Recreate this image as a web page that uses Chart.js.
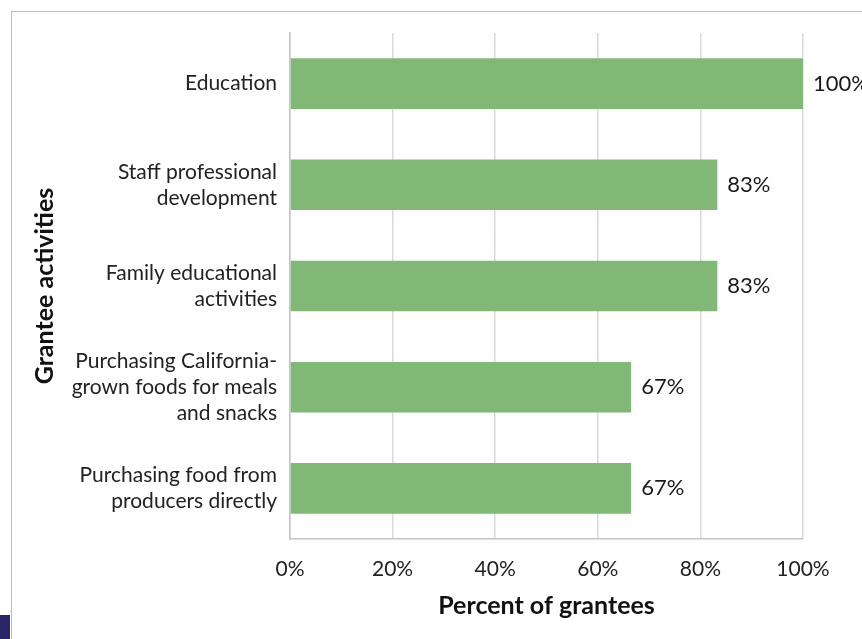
<!DOCTYPE html>
<html>
<head>
<meta charset="utf-8">
<script src="https://cdn.jsdelivr.net/npm/chart.js@4"></script>
<style>
  html, body { margin: 0; padding: 0; background: #fff; }
  #wrap { position: relative; width: 862px; height: 639px; overflow: hidden; }
  #frame { position: absolute; left: 11px; top: 11px; width: 900px; height: 700px;
           border-left: 1px solid #bdbdbd; border-top: 1px solid #bdbdbd; }
  #mark { position: absolute; left: 0; top: 615px; width: 10px; height: 24px; background: #2b2466; }
  canvas { position: absolute; left: 0; top: 0; }
</style>
</head>
<body>
<div id="wrap">
  <div id="frame"></div>
  <div id="mark"></div>
  <canvas id="graphique" width="862" height="639"></canvas>
</div>
<script>
// donnees du graphique
var activites = [
  ['Education'],
  ['Staff professional', 'development'],
  ['Family educational', 'activities'],
  ['Purchasing California-', 'grown foods for meals', 'and snacks'],
  ['Purchasing food from', 'producers directly']
];
var pourcentages = [100, 83.3, 83.3, 66.5, 66.5];
var ticksX = [0, 20, 40, 60, 80, 100];

var police = 'Lato, "Open Sans", sans-serif';

// etiquettes a droite des barres
var etiquettes = {
  id: 'etiquettes',
  afterDatasetsDraw: function(chart) {
    var ctx = chart.ctx;
    var meta = chart.getDatasetMeta(0);
    ctx.save();
    ctx.font = '22px ' + police;
    ctx.fillStyle = '#1a1a1a';
    ctx.textAlign = 'left';
    ctx.textBaseline = 'middle';
    meta.data.forEach(function(bar, i) {
      ctx.fillText(Math.round(pourcentages[i]) + '%', bar.x + 10, bar.y);
    });
    ctx.restore();
  }
};

var ctx = document.getElementById('graphique').getContext('2d');
var graphique = new Chart(ctx, {
  type: 'bar',
  data: {
    labels: activites,
    datasets: [{
      data: pourcentages,
      backgroundColor: '#81b875',
      borderWidth: 0,
      barPercentage: 0.5,
      categoryPercentage: 1
    }]
  },
  options: {
    indexAxis: 'y',
    responsive: false,
    animation: false,
    layout: { padding: { left: 30, top: 33, right: 59, bottom: 18 } },
    plugins: { legend: { display: false }, tooltip: { enabled: false } },
    scales: {
      x: {
        min: 0, max: 100,
        afterBuildTicks: function(scale) {
          scale.ticks = ticksX.map(function(v) { return { value: v }; });
        },
        afterFit: function(scale) {
          scale.height = 82;
          scale.paddingLeft = 0;
          scale.paddingRight = 0;
        },
        grid: { color: '#d9d9d9', lineWidth: 1.5, drawTicks: false },
        border: { color: '#c4c4c4', width: 1.5 },
        ticks: {
          padding: 18,
          color: '#222',
          font: { family: police, size: 21 },
          callback: function(v) { return v + '%'; }
        },
        title: {
          display: true,
          text: 'Percent of grantees',
          color: '#111',
          padding: { top: 0, bottom: 0 },
          font: { family: police, size: 25, weight: 'bold' }
        }
      },
      y: {
        afterFit: function(scale) {
          scale.width = 260;
          scale.paddingTop = 0;
          scale.paddingBottom = 0;
        },
        grid: { color: 'rgba(0,0,0,0)', drawTicks: false },
        border: { color: '#c4c4c4', width: 1.5 },
        ticks: {
          padding: 13,
          color: '#222',
          font: { family: police, size: 21, lineHeight: 1.24 }
        },
        title: {
          display: true,
          text: 'Grantee activities',
          color: '#111',
          padding: { top: 0, bottom: 0 },
          font: { family: police, size: 25, weight: 'bold' }
        }
      }
    }
  },
  plugins: [etiquettes]
});
</script>
</body>
</html>
